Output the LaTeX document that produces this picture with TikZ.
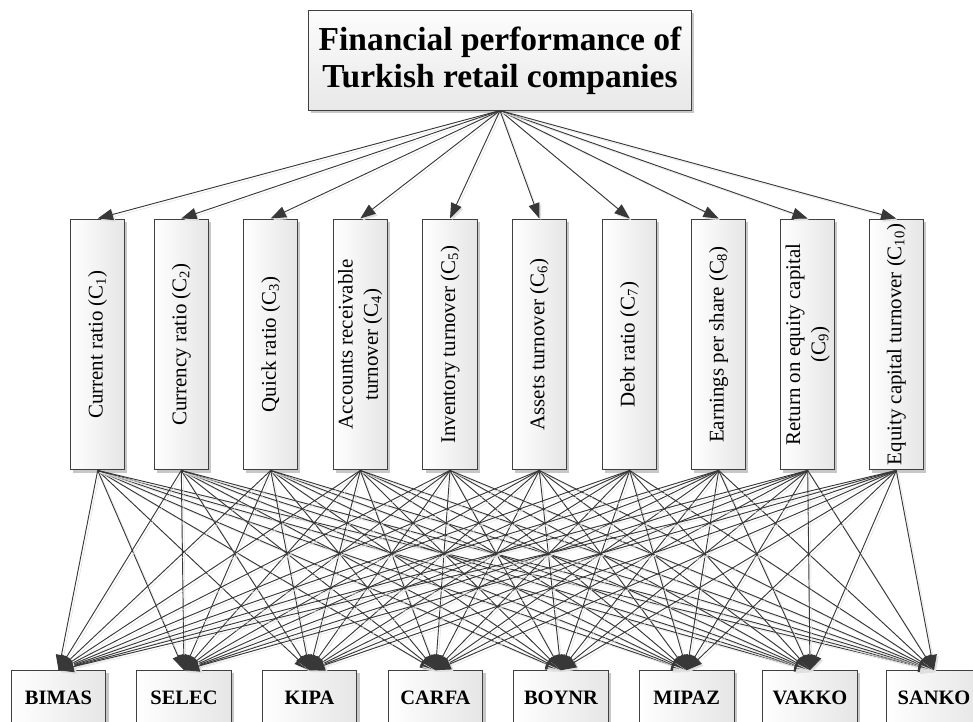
\documentclass[tikz,border=0pt]{standalone}
\usepackage{fontspec}
\setmainfont{Liberation Serif}
\usepackage{graphicx}
\usepackage{tikz}
\usetikzlibrary{arrows.meta,shadows}

% turned text for the criterion boxes
\newcommand{\vtext}[1]{\rotatebox{90}{\begin{tabular}{@{}c@{}}#1\end{tabular}}}

\begin{document}
\begin{tikzpicture}[
    font=\fontsize{15.75pt}{19pt}\selectfont,
    >={Triangle[length=11.5pt,width=8.5pt]},
    box/.style={draw=black!75, line width=0.75pt, align=center, inner sep=1pt,
        drop shadow={shadow xshift=2pt, shadow yshift=-2pt, fill=black!22, opacity=1}},
    goalbox/.style={box, top color=black!1, bottom color=black!9, minimum width=10.14cm, minimum height=2.63cm,
        font=\fontsize{25.2pt}{27.8pt}\selectfont\bfseries},
    critbox/.style={box, left color=white, right color=black!10, minimum width=1.43cm, minimum height=6.64cm},
    altbox/.style={box, left color=white, right color=black!10, minimum width=2.51cm, minimum height=1.42cm,
        font=\fontsize{15.4pt}{18pt}\selectfont\bfseries},
    link/.style={->, draw=black!78, line width=0.7pt,
        preaction={draw=black!12, transform canvas={shift={(1.5pt,-1.5pt)}}}}
]
\useasboundingbox (0,0) rectangle (25.746,-19.104);

% goal
\node[goalbox] (goal) at (13.23,-1.597) {Financial performance of\\Turkish retail companies};

% criteria
\node[critbox] (c1) at (2.585,-9.115) {\vtext{Current ratio (C\textsubscript{1})}};
\node[critbox] (c2) at (4.797,-9.115) {\vtext{Currency ratio (C\textsubscript{2})}};
\node[critbox] (c3) at (7.163,-9.115) {\vtext{Quick ratio (C\textsubscript{3})}};
\node[critbox] (c4) at (9.534,-9.115) {\vtext{Accounts receivable\\turnover (C\textsubscript{4})}};
\node[critbox] (c5) at (11.907,-9.115) {\vtext{Inventory turnover (C\textsubscript{5})}};
\node[critbox] (c6) at (14.270,-9.115) {\vtext{Assets turnover (C\textsubscript{6})}};
\node[critbox] (c7) at (16.662,-9.115) {\vtext{Debt ratio (C\textsubscript{7})}};
\node[critbox] (c8) at (19.017,-9.115) {\vtext{Earnings per share (C\textsubscript{8})}};
\node[critbox] (c9) at (21.372,-9.115) {\vtext{Return on equity capital\\(C\textsubscript{9})}};
\node[critbox] (c10) at (23.716,-9.115) {\vtext{Equity capital turnover (C\textsubscript{10})}};

% alternatives
\node[altbox] (a1) at (1.548,-18.457) {BIMAS};
\node[altbox] (a2) at (4.869,-18.457) {SELEC};
\node[altbox] (a3) at (8.189,-18.457) {KIPA};
\node[altbox] (a4) at (11.523,-18.457) {CARFA};
\node[altbox] (a5) at (14.844,-18.457) {BOYNR};
\node[altbox] (a6) at (18.173,-18.457) {MIPAZ};
\node[altbox] (a7) at (21.433,-18.457) {VAKKO};
\node[altbox] (a8) at (24.714,-18.457) {SANKO};

% goal -> criteria
\foreach \i in {1,...,10}
    \draw[link] (goal.south) -- (c\i.north);
% criteria -> alternatives
\foreach \i in {1,...,10}
    \foreach \j in {1,...,8}
        \draw[link] (c\i.south) -- (a\j.north);
\end{tikzpicture}
\end{document}
